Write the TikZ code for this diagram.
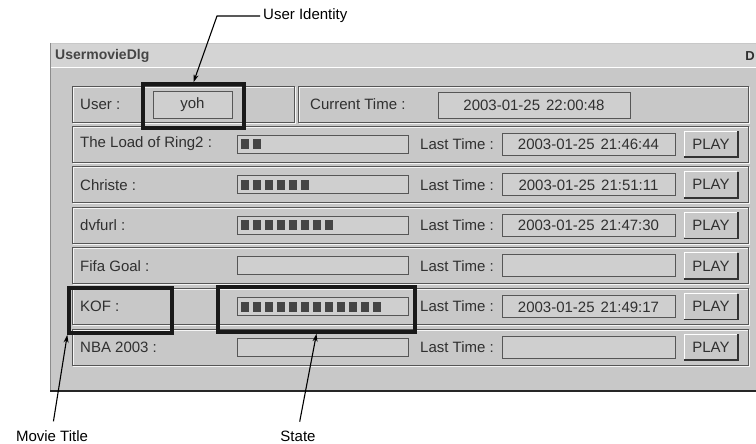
\documentclass[tikz,border=0pt]{standalone}
\usepackage{fontspec}
\setmainfont{Liberation Sans}
\usetikzlibrary{arrows.meta}

\definecolor{dlgbg}{HTML}{C8C8C8}
\definecolor{titlebg}{HTML}{D4D4D4}
\definecolor{fieldbg}{HTML}{CFCFCF}
\definecolor{edge}{HTML}{565656}
\definecolor{ink}{HTML}{303030}

\tikzset{
  ui/.style={font=\fontsize{15}{17}\selectfont, text=ink, inner sep=0pt},
  etched/.style={draw=edge, line width=0.9pt},
  etchlight/.style={draw=white!92!gray, line width=0.9pt},
  fieldbox/.style={draw=edge, fill=fieldbg, line width=0.9pt},
  btnlight/.style={draw=white, line width=1pt},
  btndark/.style={draw=black!80, line width=1.6pt},
  hilite/.style={draw=black!90, line width=3.4pt, inner sep=0pt},
  note/.style={font=\fontsize{15}{17}\selectfont, text=black, inner sep=0pt},
  pointer/.style={draw=black, line width=1.1pt, -{Stealth[length=8pt,width=5pt]}},
  barblock/.style={fill=ink!90, draw=none},
}

\begin{document}
\begin{tikzpicture}[x=1pt,y=-1pt]
\useasboundingbox (0,0) rectangle (756,444);
\clip (0,0) rectangle (756,444);

% dialog window
\fill[dlgbg] (50,43) rectangle (770,391);
\fill[titlebg] (51,44) rectangle (770,67);
\draw[white, line width=1pt] (51,68) -- (770,68);
\draw[black!45, line width=0.8pt] (50,43) -- (50,391);
\draw[black!85, line width=1.8pt] (50,391) -- (770,391);
\node[font=\bfseries\fontsize{14}{16}\selectfont, text=ink!90, inner sep=0pt, anchor=west] (dlgtitle) at (55,56) {UsermovieDlg};
\node[font=\bfseries\fontsize{13}{15}\selectfont, text=ink, inner sep=0pt, anchor=east] (closeglyph) at (755,56) {D};

% user / current time row
\draw[etchlight] (73,87) rectangle (295,123);
\draw[etched] (72,86) rectangle (294,122);
\draw[etchlight] (299,87) rectangle (749,123);
\draw[etched] (298,86) rectangle (748,122);
\node[ui, anchor=west] (userlbl) at (80,104) {User :};
\draw[fieldbox] (153,91) rectangle (232,118);
\node[ui] (username) at (192.5,104.5) {yoh};
\node[ui, anchor=west] (curlbl) at (310,104) {Current Time :};
\draw[fieldbox] (438,92) rectangle (630,118);
\node[ui] (curtime) at (534,105) {2003-01-25\hspace{6pt}22:00:48};

% movie rows: index / title / progress blocks / last time
\foreach \i/\title/\n/\stamp in {
    1/The Load of Ring2 :/2/2003-01-25\hspace{6pt}21:46:44,
    2/Christe :/6/2003-01-25\hspace{6pt}21:51:11,
    3/dvfurl :/8/2003-01-25\hspace{6pt}21:47:30,
    4/Fifa Goal :/0/,
    5/KOF :/12/2003-01-25\hspace{6pt}21:49:17,
    6/NBA 2003 :/0/} {
  \pgfmathsetmacro{\c}{103.5+40.6*\i}
  \draw[etchlight] (73,\c-17) rectangle (749,\c+19);
  \draw[etched] (72,\c-18) rectangle (748,\c+18);
  \node[ui, anchor=west] (movie\i) at (80,\c) {\title};
  % progress bar
  \draw[fieldbox] (237,\c-9) rectangle (408,\c+9);
  \ifnum\n>0
    \foreach \k in {1,...,\n} {
      \fill[barblock] ({241+12*(\k-1)},\c-5) rectangle ({249+12*(\k-1)},\c+5);
    }
  \fi
  \node[ui, anchor=west] (lastlbl\i) at (420,\c) {Last Time :};
  \draw[fieldbox] (502,\c-11) rectangle (675,\c+11);
  \node[ui] (lasttime\i) at (588.5,\c+0.5) {\stamp};
  % PLAY button
  \fill[dlgbg] (684,\c-13) rectangle (738,\c+13);
  \draw[btnlight] (737,\c-13) -- (684,\c-13) -- (684,\c+12);
  \draw[btndark] (684,\c+13) -- (738,\c+13) -- (738,\c-13);
  \node[ui] (play\i) at (711,\c) {PLAY};
}

% highlighted regions
\node[hilite, minimum width=101pt, minimum height=44pt] (userhl) at (193.5,106) {};
\node[hilite, minimum width=103pt, minimum height=45pt] (kofhl) at (120.5,310.5) {};
\node[hilite, minimum width=197pt, minimum height=45pt] (statehl) at (316.5,309.5) {};

% callouts
\node[note, anchor=west] (uidnote) at (263,16) {User Identity};
\coordinate (uidbend) at (217,16);
\draw[pointer, shorten <=3pt] (uidnote.west) -- (uidbend) -- (userhl.north);

\node[note] (titlenote) at (52,436) {Movie Title};
\draw[pointer, shorten <=9pt] (titlenote.north) -- (kofhl.south west);

\node[note] (statenote) at (298,436) {State};
\draw[pointer, shorten <=9pt] (statenote.north) -- (statehl.south);
\end{tikzpicture}
\end{document}
